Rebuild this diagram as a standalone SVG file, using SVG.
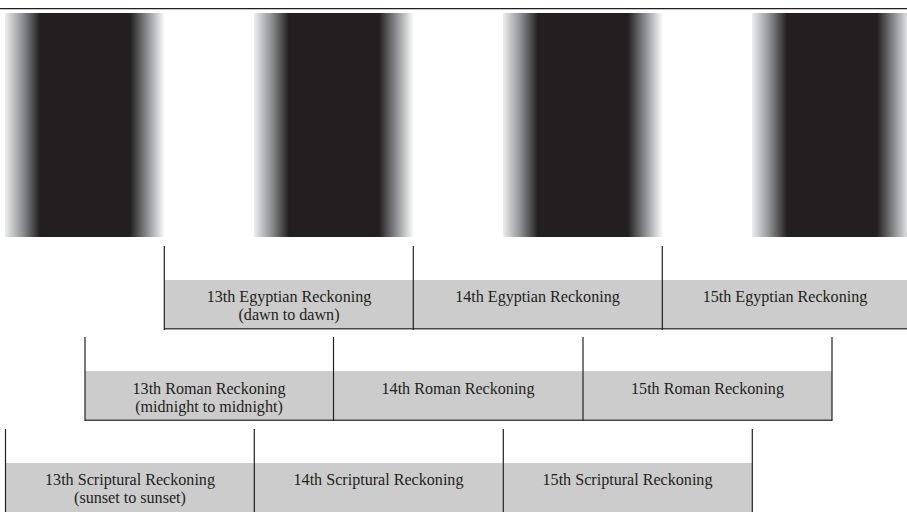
<svg xmlns="http://www.w3.org/2000/svg" width="907" height="512" viewBox="0 0 907 512">
  <style>
    .dark { fill: #231f20; }
    .tick { stroke: #231f20; stroke-width: 1.2; fill: none; }
    .base { stroke: #4a4a4a; stroke-width: 1.4; fill: none; }
    .band { fill: #cccccc; }
    .lbl { font-family: "Liberation Serif", "Times New Roman", serif; font-size: 17px; fill: #231f20; text-anchor: middle; }
  </style>
  <defs>
    <linearGradient id="fadeIn" x1="0" y1="0" x2="1" y2="0">
      <stop offset="0" stop-color="#eeeef0"/>
      <stop offset="0.5" stop-color="#8e9094"/>
      <stop offset="1" stop-color="#231f20"/>
    </linearGradient>
    <linearGradient id="fadeOut" x1="0" y1="0" x2="1" y2="0">
      <stop offset="0" stop-color="#231f20"/>
      <stop offset="0.5" stop-color="#8e9094"/>
      <stop offset="1" stop-color="#ffffff"/>
    </linearGradient>
  </defs>

  <rect width="907" height="512" fill="#ffffff"/>

  <!-- top rule -->
  <line x1="0" y1="8.6" x2="907" y2="8.6" stroke="#231f20" stroke-width="1.4"/>

  <!-- day/night strip: dusk ramp, night, dawn ramp -->
  <g id="daylight-strip">
    <rect x="5" y="13" width="35" height="224" fill="url(#fadeIn)"/>
    <rect x="40" y="13" width="90" height="224" class="dark"/>
    <rect x="130" y="13" width="35" height="224" fill="url(#fadeOut)"/>

    <rect x="254" y="13" width="35" height="224" fill="url(#fadeIn)"/>
    <rect x="289" y="13" width="90" height="224" class="dark"/>
    <rect x="379" y="13" width="35" height="224" fill="url(#fadeOut)"/>

    <rect x="503" y="13" width="35" height="224" fill="url(#fadeIn)"/>
    <rect x="538" y="13" width="90" height="224" class="dark"/>
    <rect x="628" y="13" width="35" height="224" fill="url(#fadeOut)"/>

    <rect x="752" y="13" width="35" height="224" fill="url(#fadeIn)"/>
    <rect x="787" y="13" width="90" height="224" class="dark"/>
    <rect x="877" y="13" width="35" height="224" fill="url(#fadeOut)"/>
  </g>

  <!-- Egyptian reckoning row -->
  <g id="egyptian-row">
    <rect x="164" y="280" width="743" height="49" class="band"/>
    <line x1="164" y1="328.8" x2="907" y2="328.8" class="base"/>
  </g>
  <g id="egyptian-13">
    <text class="lbl" transform="translate(289 301.5) scale(0.948 1)">13th Egyptian Reckoning</text>
    <text class="lbl" transform="translate(289 320) scale(0.948 1)">(dawn to dawn)</text>
  </g>
  <g id="egyptian-14">
    <text class="lbl" transform="translate(537.5 301.5) scale(0.948 1)">14th Egyptian Reckoning</text>
  </g>
  <g id="egyptian-15">
    <text class="lbl" transform="translate(785 301.5) scale(0.948 1)">15th Egyptian Reckoning</text>
  </g>

  <!-- Roman reckoning row -->
  <g id="roman-row">
    <rect x="85" y="371" width="747" height="49" class="band"/>
    <line x1="85" y1="420.3" x2="832" y2="420.3" class="base"/>
  </g>
  <g id="roman-13">
    <text class="lbl" transform="translate(209 393.5) scale(0.948 1)">13th Roman Reckoning</text>
    <text class="lbl" transform="translate(209 412) scale(0.948 1)">(midnight to midnight)</text>
  </g>
  <g id="roman-14">
    <text class="lbl" transform="translate(458 393.5) scale(0.948 1)">14th Roman Reckoning</text>
  </g>
  <g id="roman-15">
    <text class="lbl" transform="translate(707.5 393.5) scale(0.948 1)">15th Roman Reckoning</text>
  </g>

  <!-- Scriptural reckoning row -->
  <g id="scriptural-row">
    <rect x="5.5" y="463" width="746.5" height="49" class="band"/>
  </g>
  <g id="scriptural-13">
    <text class="lbl" transform="translate(130 484.5) scale(0.948 1)">13th Scriptural Reckoning</text>
    <text class="lbl" transform="translate(130 503) scale(0.948 1)">(sunset to sunset)</text>
  </g>
  <g id="scriptural-14">
    <text class="lbl" transform="translate(378.5 484.5) scale(0.948 1)">14th Scriptural Reckoning</text>
  </g>
  <g id="scriptural-15">
    <text class="lbl" transform="translate(627.5 484.5) scale(0.948 1)">15th Scriptural Reckoning</text>
  </g>

  <!-- boundary ticks -->
  <g id="connectors">
    <line x1="164.3" y1="246" x2="164.3" y2="330" class="tick"/>
    <line x1="413.3" y1="246" x2="413.3" y2="330" class="tick"/>
    <line x1="662.3" y1="246" x2="662.3" y2="330" class="tick"/>

    <line x1="85" y1="337" x2="85" y2="421" class="tick"/>
    <line x1="333.5" y1="337" x2="333.5" y2="421" class="tick"/>
    <line x1="583" y1="337" x2="583" y2="421" class="tick"/>
    <line x1="832" y1="337" x2="832" y2="421" class="tick"/>

    <line x1="5.5" y1="429" x2="5.5" y2="512" class="tick"/>
    <line x1="254.3" y1="429" x2="254.3" y2="512" class="tick"/>
    <line x1="503.3" y1="429" x2="503.3" y2="512" class="tick"/>
    <line x1="752.3" y1="429" x2="752.3" y2="512" class="tick"/>
  </g>
</svg>
